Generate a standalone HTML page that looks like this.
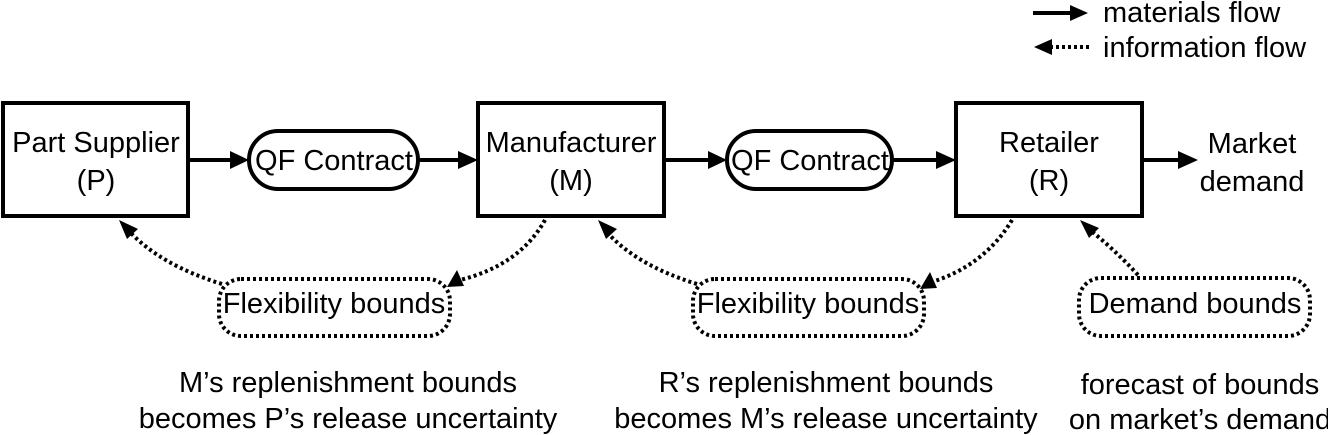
<!DOCTYPE html>
<html><head><meta charset="utf-8"><style>
html,body{margin:0;padding:0;background:#fff;}
svg{display:block;}
text{font-family:"Liberation Sans",sans-serif;fill:#000;}
</style></head><body>
<svg width="1328" height="435" viewBox="0 0 1328 435" xmlns="http://www.w3.org/2000/svg">
<g stroke="#000" stroke-width="4" fill="none">
<line x1="1033" y1="13" x2="1072" y2="13"/>
<line x1="1050" y1="47" x2="1090" y2="47" stroke-dasharray="3,3"/>
<rect x="3" y="103" width="185" height="113"/>
<rect x="478" y="103" width="186" height="113"/>
<rect x="956" y="103" width="186" height="113"/>
<rect x="249" y="131" width="169" height="58" rx="29"/>
<rect x="727" y="131" width="165" height="58" rx="29"/>
<line x1="188" y1="160" x2="232" y2="160"/>
<line x1="418" y1="160" x2="460" y2="160"/>
<line x1="664" y1="160" x2="710" y2="160"/>
<line x1="892" y1="160" x2="938" y2="160"/>
<line x1="1142" y1="160" x2="1180" y2="160"/>
</g>
<g fill="#000">
<path d="M1070,5 L1088,13 L1070,21 z"/>
<path d="M1052,39 L1034,47 L1052,55 z"/>
<path d="M230,151 L249,160 L230,169 z"/>
<path d="M458,151 L478,160 L458,169 z"/>
<path d="M708,151 L727,160 L708,169 z"/>
<path d="M936,151 L956,160 L936,169 z"/>
<path d="M1178,151 L1198,160 L1178,169 z"/>
</g>
<g stroke="#000" stroke-width="4" fill="none" stroke-dasharray="3,3">
<rect x="219" y="279" width="231" height="57" rx="22"/>
<rect x="693" y="279" width="231" height="57" rx="22"/>
<rect x="1079" y="278" width="231" height="58" rx="22"/>
<path d="M222,284 Q160,265 128,230"/>
<path d="M545,220 Q520,265 460,280"/>
<path d="M697,284 Q635,265 605,230"/>
<path d="M1012,220 Q985,265 932,282"/>
<path d="M1138,275 Q1115,250 1090,230"/>
</g>
<g fill="#000">
<path d="M119,220 L138,229 L127,239 z"/>
<path d="M447,287 L457,270 L464,286 z"/>
<path d="M598,220 L617,229 L606,239 z"/>
<path d="M920,289 L930,272 L937,288 z"/>
<path d="M1080,220 L1099,228 L1089,238 z"/>
</g>
<g font-size="29" text-anchor="middle">
<text x="1103" y="22" text-anchor="start">materials flow</text>
<text x="1103" y="57" text-anchor="start">information flow</text>
<text x="96" y="152">Part Supplier</text>
<text x="96" y="190">(P)</text>
<text x="571" y="152">Manufacturer</text>
<text x="571" y="190">(M)</text>
<text x="1049" y="152">Retailer</text>
<text x="1049" y="190">(R)</text>
<text x="334" y="170">QF Contract</text>
<text x="810" y="170">QF Contract</text>
<text x="1252" y="153">Market</text>
<text x="1252" y="191">demand</text>
<text x="334" y="313">Flexibility bounds</text>
<text x="808" y="313">Flexibility bounds</text>
<text x="1195" y="313">Demand bounds</text>
<text x="348" y="392">M’s replenishment bounds</text>
<text x="348" y="428">becomes P’s release uncertainty</text>
<text x="826" y="392">R’s replenishment bounds</text>
<text x="826" y="428">becomes M’s release uncertainty</text>
<text x="1200" y="394">forecast of bounds</text>
<text x="1200" y="429">on market’s demand</text>
</g>
</svg>
</body></html>
